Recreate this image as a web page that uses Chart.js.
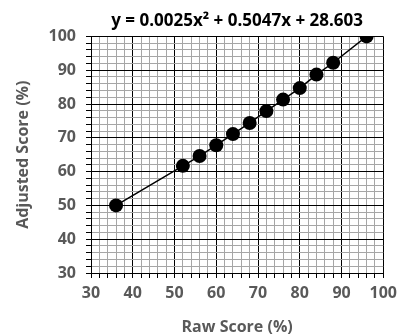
<!DOCTYPE html>
<html>
<head>
<meta charset="utf-8">
<script src="https://cdn.jsdelivr.net/npm/chart.js@4"></script>
<style>
  html, body { margin: 0; padding: 0; background: #fff; }
  #wrap { width: 403px; height: 335px; }
</style>
</head>
<body>
<div id="wrap"><canvas id="chart" width="403" height="335"></canvas></div>
<script>
// raw vs adjusted score
const rawScores = [36, 52, 56, 60, 64, 68, 72, 76, 80, 84, 88, 96];
const adjustedScores = [50, 61.7, 64.6, 67.8, 71.1, 74.4, 77.9, 81.3, 84.7, 88.7, 92.2, 100];
const axisMin = 30;
const axisMax = 100;
const minorStep = 2;
const majorStep = 10;
const titleText = 'y = 0.0025x\u00B2 + 0.5047x + 28.603';

const FONT = "'Open Sans', 'DejaVu Sans', sans-serif";
const GREY = '#595959';

const points = rawScores.map((x, i) => ({ x: x, y: adjustedScores[i] }));

const gridColor = ctx => (ctx.tick && ctx.tick.value % majorStep === 0) ? '#000' : '#a6a6a6';
const tickLabel = v => (v % majorStep === 0 ? v : '');

new Chart(document.getElementById('chart'), {
    type: 'scatter',
    data: {
        datasets: [{
            data: points,
            showLine: true,
            borderColor: '#000',
            borderWidth: 1.5,
            backgroundColor: '#000',
            pointRadius: 7,
            pointHoverRadius: 7,
            pointBorderWidth: 0
        }]
    },
    options: {
        responsive: false,
        animation: false,
        layout: { padding: { left: 0, right: 14, top: 0, bottom: 0 } },
        plugins: {
            legend: { display: false },
            tooltip: { enabled: false },
            title: {
                display: true,
                text: titleText,
                color: '#000',
                font: { family: FONT, size: 17, weight: 'bold' },
                padding: { top: 11, bottom: 5 },
                fullSize: false
            }
        },
        scales: {
            x: {
                type: 'linear',
                min: axisMin,
                max: axisMax,
                afterFit: s => { s.height = 62; },
                ticks: {
                    stepSize: minorStep,
                    autoSkip: false,
                    maxRotation: 0,
                    padding: 6,
                    color: GREY,
                    font: { family: FONT, size: 16, weight: 'bold' },
                    callback: tickLabel
                },
                grid: { color: gridColor, tickColor: '#000', tickLength: 5, lineWidth: 1 },
                border: { color: '#000', width: 1 },
                title: {
                    display: true,
                    text: 'Raw Score (%)',
                    color: GREY,
                    font: { family: FONT, size: 16, weight: 'bold' },
                    padding: { top: 0, bottom: -2 }
                }
            },
            y: {
                type: 'linear',
                min: axisMin,
                max: axisMax,
                afterFit: s => { s.width = 91; },
                ticks: {
                    stepSize: minorStep,
                    autoSkip: false,
                    padding: 10,
                    color: GREY,
                    font: { family: FONT, size: 16, weight: 'bold' },
                    callback: tickLabel
                },
                grid: { color: gridColor, tickColor: '#000', tickLength: 5, lineWidth: 1 },
                border: { color: '#000', width: 1 },
                title: {
                    display: true,
                    text: 'Adjusted Score (%)',
                    color: GREY,
                    font: { family: FONT, size: 16, weight: 'bold' },
                    padding: { top: 14, bottom: 0 }
                }
            }
        }
    }
});
</script>
</body>
</html>
